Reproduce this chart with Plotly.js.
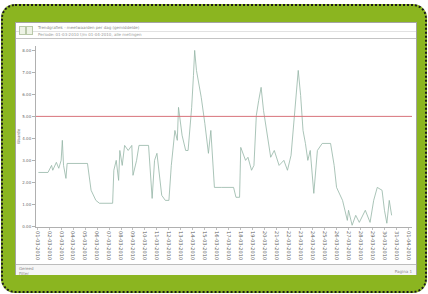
<!DOCTYPE html>
<html>
<head>
<meta charset="utf-8">
<script src="https://cdn.plot.ly/plotly-3.0.1.min.js"></script>
<style>
  html, body { margin:0; padding:0; background:#ffffff; }
  body { width:428px; height:294px; overflow:hidden; position:relative; font-family:"DejaVu Sans", sans-serif; }
  #frame { position:absolute; left:1px; top:4px; width:422px; height:285px; background:#8bb520;
           border:2px dotted #1b1b1b; border-radius:14px; }
  #panel { position:absolute; left:15px; top:22px; width:400px; height:251px; background:#ffffff;
           border:1px solid #a4a4a4; }
  #chart { position:absolute; left:0; top:0; width:400px; height:251px; }
  .hdr { position:absolute; left:0; top:0; width:400px; height:15px; border-bottom:1px solid #c4c4c4; }
  .hdrline { position:absolute; left:0; top:8px; width:400px; height:0; border-top:1px solid #e2e2e2; }
  .icon { position:absolute; top:3px; width:5px; height:7px; border:1px solid #b9c9a9; background:#eef3e6; }
  .t1 { position:absolute; left:22px; top:2px; font-size:4px; color:#8a8a8a; white-space:nowrap; }
  .t2 { position:absolute; left:22px; top:9px; font-size:4px; color:#9a9a9a; white-space:nowrap; }
  .ftr { position:absolute; left:0; top:241px; width:400px; height:10px; border-top:1px solid #bdbdbd; background:#f6f6f6; }
  .f1 { position:absolute; left:3px; top:1px; font-size:4px; color:#8a8a8a; }
  .f2 { position:absolute; right:4px; top:4px; font-size:4px; color:#8a8a8a; }
</style>
</head>
<body>
<div id="frame"></div>
<div id="panel">
  <div id="chart"></div>
  <div class="hdr">
    <div class="hdrline"></div>
    <div class="icon" style="left:3px"></div>
    <div class="icon" style="left:10px"></div>
    <div class="t1">Trendgrafiek - meetwaarden per dag (gemiddelde)</div>
    <div class="t2">Periode: 01-03-2010 t/m 01-04-2010, alle metingen</div>
  </div>
  <div class="ftr">
    <div class="f1">Gereed<br>Filter</div>
    <div class="f2">Pagina 1</div>
  </div>
</div>
<script>
// x position of each sample, in days from the first tick
const dayIndex = [
  0.1, 0.9, 1.2, 1.3, 1.6, 1.8, 2.0, 2.1, 2.2, 2.4,
  2.5, 4.2, 4.5, 4.9, 5.2, 6.3, 6.4, 6.6, 6.8, 6.9,
  7.1, 7.3, 7.6, 7.9, 8.0, 8.3, 8.5, 9.3, 9.6, 9.8,
  10.0, 10.2, 10.4, 10.7, 11.0, 11.2, 11.5, 11.7, 11.8, 12.1,
  12.4, 12.6, 12.9, 13.05, 13.15, 13.3, 13.5, 13.7, 14.0, 14.3,
  14.5, 14.8, 15.4, 16.4, 16.6, 16.9, 17.0, 17.4, 17.6, 17.9,
  18.1, 18.3, 18.5, 18.7, 18.9, 19.3, 19.5, 19.8, 20.2, 20.6,
  20.9, 21.2, 21.6, 21.8, 22.0, 22.2, 22.4, 22.6, 22.8, 23.1,
  23.4, 23.8, 24.5, 24.8, 25.0, 25.5, 25.9, 26.0, 26.3, 26.6,
  26.9, 27.4, 27.8, 28.1, 28.4, 28.8, 29.0, 29.2, 29.4, 29.6
];
// measured value of each sample
const measured = [
  2.45, 2.45, 2.77, 2.55, 2.91, 2.64, 3.00, 3.91, 2.77, 2.18,
  2.86, 2.86, 1.64, 1.18, 1.05, 1.05, 2.55, 3.00, 2.09, 3.45,
  2.77, 3.68, 3.45, 3.68, 2.32, 3.00, 3.68, 3.68, 1.27, 3.00,
  3.32, 2.32, 1.41, 1.18, 1.18, 2.77, 4.36, 3.91, 5.41, 4.14,
  3.45, 3.45, 5.41, 6.86, 8.00, 7.09, 6.50, 5.86, 4.68, 3.32,
  4.36, 1.77, 1.77, 1.77, 1.32, 1.32, 3.59, 3.00, 3.14, 2.55,
  2.77, 5.05, 5.73, 6.32, 5.27, 3.91, 3.14, 3.45, 2.77, 3.00,
  2.55, 3.23, 5.73, 7.09, 5.95, 4.36, 3.77, 3.00, 3.45, 1.50,
  3.45, 3.77, 3.77, 2.77, 1.77, 1.18, 0.27, 0.73, 0.05, 0.50,
  0.18, 0.73, 0.18, 1.18, 1.77, 1.64, 0.73, 0.14, 1.18, 0.50
];
const limitValue = 5.0;
const xTickVals = [0,1,2,3,4,5,6,7,8,9,10,11,12,13,14,15,16,17,18,19,20,21,22,23,24,25,26,27,28,29,30,31];
const xTickLabels = [
  "01-03-2010","02-03-2010","03-03-2010","04-03-2010","05-03-2010","06-03-2010","07-03-2010","08-03-2010",
  "09-03-2010","10-03-2010","11-03-2010","12-03-2010","13-03-2010","14-03-2010","15-03-2010","16-03-2010",
  "17-03-2010","18-03-2010","19-03-2010","20-03-2010","21-03-2010","22-03-2010","23-03-2010","24-03-2010",
  "25-03-2010","26-03-2010","27-03-2010","28-03-2010","29-03-2010","30-03-2010","31-03-2010","01-04-2010"
];
const yTickVals = [0,1,2,3,4,5,6,7,8];
const yTickLabels = ["0.00","1.00","2.00","3.00","4.00","5.00","6.00","7.00","8.00"];

const traces = [
  { x: dayIndex, y: measured, type: 'scatter', mode: 'lines',
    line: { color: '#94b5a6', width: 0.8 }, hoverinfo: 'skip' },
  { x: [xTickVals[0] - 0.1, xTickVals[xTickVals.length - 1] + 0.3], y: [limitValue, limitValue],
    type: 'scatter', mode: 'lines', line: { color: '#d8727a', width: 1 }, hoverinfo: 'skip' }
];

const layout = {
  width: 400, height: 251,
  margin: { l: 20, r: 4, t: 23, b: 47 },
  paper_bgcolor: 'rgba(0,0,0,0)', plot_bgcolor: '#ffffff',
  showlegend: false,
  font: { family: 'DejaVu Sans', size: 4, color: '#6a6a6a' },
  xaxis: {
    range: [-0.1, 31.3], tickmode: 'array', tickvals: xTickVals, ticktext: xTickLabels,
    tickangle: 90, showgrid: false, zeroline: false, showline: true, linecolor: '#b0b0b0', linewidth: 1,
    ticks: 'outside', ticklen: 2, tickcolor: '#c0c0c0',
    tickfont: { size: 5, color: '#5e5e5e', family: 'DejaVu Sans' }
  },
  yaxis: {
    range: [-0.03, 8.2], tickmode: 'array', tickvals: yTickVals, ticktext: yTickLabels,
    showgrid: false, zeroline: false, showline: true, linecolor: '#b0b0b0', linewidth: 1,
    ticks: 'outside', ticklen: 3, tickcolor: '#b0b0b0',
    tickfont: { size: 4, color: '#6a6a6a', family: 'DejaVu Sans' },
    title: { text: 'Waarde', font: { size: 4, color: '#6a6a6a' }, standoff: 2 }
  }
};

Plotly.newPlot('chart', traces, layout, { staticPlot: true, displayModeBar: false });
</script>
</body>
</html>
